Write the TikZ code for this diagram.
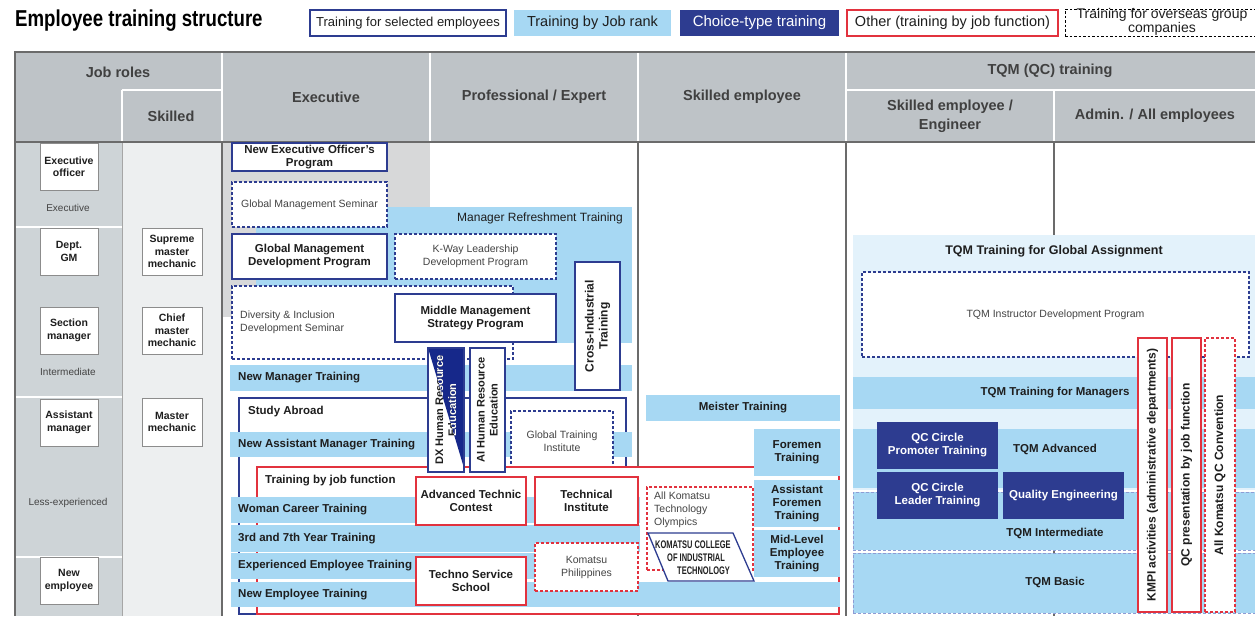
\documentclass[tikz,border=0pt]{standalone}
\usepackage{fontspec}
\setmainfont{Liberation Sans}
\usetikzlibrary{calc}
\definecolor{navy}{HTML}{2D3C90}
\definecolor{dxnavy}{HTML}{16288A}
\definecolor{lblue}{HTML}{A7D8F3}
\definecolor{vlblue}{HTML}{E3F2FB}
\definecolor{redc}{HTML}{E2323E}
\definecolor{hdrgray}{HTML}{BEC3C7}
\definecolor{leftgray}{HTML}{CED4D7}
\definecolor{skgray}{HTML}{EDEFF0}
\definecolor{exgray}{HTML}{D7D8D9}
\definecolor{lineg}{HTML}{6B6B6B}
\definecolor{txt}{HTML}{1E1E1E}
\definecolor{gtxt}{HTML}{444444}
\definecolor{intb}{HTML}{8E9CD4}
\newcommand\mybox[7]{%
 \pgfmathsetmacro\mbw{#5-#3}\pgfmathsetmacro\mbh{#6-#4}%
 \node[#1,anchor=north west,minimum width=\mbw pt,minimum height=\mbh pt,inner sep=0pt,outer sep=0pt] (#2) at (#3,#4) {#7};}
\begin{document}
\begin{tikzpicture}[x=1pt,y=-1pt,
 fb/.style={font=\fontsize{11.5}{13}\selectfont\bfseries,text=txt},
 fr/.style={font=\fontsize{10.5}{13}\selectfont,text=gtxt},
 sel/.style={draw=navy,line width=1.3pt,fill=white,align=center,fb},
 seld/.style={draw=navy,line width=1.1pt,dash pattern=on 3pt off 2pt,fill=white,align=center,fr},
 band/.style={fill=lblue,align=center,fb},
 oth/.style={draw=redc,line width=1.3pt,fill=white,align=center,fb},
 othd/.style={draw=redc,line width=1.1pt,dash pattern=on 3pt off 2pt,fill=white,align=center,fr},
 choice/.style={fill=navy,align=center,fb,text=white},
 intband/.style={fill=lblue,draw=intb,line width=0.9pt,dash pattern=on 3pt off 2pt,align=center,fb},
 rank/.style={draw=black!45,line width=0.9pt,fill=white,align=center,font=\fontsize{10.5}{12.5}\selectfont\bfseries,text=txt},
 lvl/.style={font=\fontsize{10}{12}\selectfont,text=gtxt},
 hdr/.style={font=\fontsize{14.5}{19}\selectfont\bfseries,text=txt!85,align=center},
 lbl/.style={anchor=west,inner sep=0pt,fb},
 rotl/.style={rotate=90,align=center,inner sep=0pt,font=\fontsize{11}{13}\selectfont\bfseries,text=txt},
 rotk/.style={rotate=90,align=center,inner sep=0pt,font=\fontsize{12}{14}\selectfont\bfseries,text=txt},
 colline/.style={draw=lineg,line width=1.3pt},
 sepw/.style={draw=white,line width=1.5pt}
]
\useasboundingbox (0,0) rectangle (1255,616);
\clip (0,0) rectangle (1255,616);
% title and legend
\node[anchor=west,inner sep=0pt,text=black] (title) at (15,21) {\scalebox{0.81}[1]{\fontsize{23}{25}\selectfont\bfseries Employee training structure}};
\mybox{sel,font=\fontsize{13}{15}\selectfont,line width=1.1pt}{lg1}{310}{10}{506}{36}{Training for selected employees}
\mybox{band,font=\fontsize{14.5}{16}\selectfont}{lg2}{514}{10}{671}{36}{Training by Job rank}
\mybox{choice,font=\fontsize{15}{17}\selectfont}{lg3}{680}{10}{839}{36}{Choice-type training}
\mybox{oth,font=\fontsize{14.5}{16}\selectfont,line width=1.1pt}{lg4}{847}{10}{1058}{36}{Other (training by job function)}
\mybox{draw=black,line width=1pt,dash pattern=on 2.5pt off 2pt}{lg5}{1065}{9}{1262}{36}{}
\node[align=center,inner sep=0pt,font=\fontsize{14}{14.5}\selectfont,text=txt] (lg5t) at (1162,22) {Training for overseas group\\companies};
% header
\fill[hdrgray] (15,52) rectangle (1262,142);
\draw[sepw] (222,52) -- (222,142) (430,52) -- (430,142) (638,52) -- (638,142) (846,52) -- (846,142)
 (122,90) -- (122,142) (122,90) -- (222,90) (846,90) -- (1262,90) (1054,90) -- (1054,142);
\node[hdr] (hjr) at (118,72) {Job roles};
\node[hdr] (hsk) at (171,116) {Skilled};
\node[hdr] (hex) at (326,97) {Executive};
\node[hdr] (hpe) at (534,97) {Professional / Expert};
\node[hdr] (hse) at (742,97) {Skilled employee};
\node[hdr] (htq) at (1050,71) {TQM (QC) training};
\node[hdr] (hsee) at (950,116) {Skilled employee /\\Engineer};
\node[hdr] (hadm) at (1155,116) {Admin. / All employees};
% body backgrounds
\fill[leftgray] (15,142) rectangle (122,616);
\fill[skgray] (122,142) rectangle (222,616);
\fill[exgray] (222,142) rectangle (430,317);
\draw[sepw] (15,227) -- (122,227) (15,397) -- (122,397) (15,557) -- (122,557);
\draw[draw=black!35,line width=1pt] (122,142) -- (122,616);
\draw[colline] (222,142) -- (222,616) (638,142) -- (638,616) (846,142) -- (846,616) (1054,142) -- (1054,616);
\draw[colline] (1262,52) -- (15,52) -- (15,616) (15,142) -- (1262,142);
% job roles
\mybox{rank}{eo}{40}{143}{98}{190}{Executive\\officer}
\node[lvl] (lvex) at (68,208) {Executive};
\mybox{rank}{dgm}{40}{228}{98}{275}{Dept.\\GM}
\mybox{rank}{sm}{40}{307}{98}{354}{Section\\manager}
\node[lvl] (lvint) at (68,372) {Intermediate};
\mybox{rank}{am}{40}{399}{98}{446}{Assistant\\manager}
\node[lvl] (lvle) at (68,503) {Less-experienced};
\mybox{rank}{ne}{40}{557}{98}{604}{New\\employee}
\mybox{rank}{smm}{142}{228}{202}{275}{Supreme\\master\\mechanic}
\mybox{rank}{cmm}{142}{307}{202}{354}{Chief\\master\\mechanic}
\mybox{rank}{mm}{142}{398}{202}{446}{Master\\mechanic}
% executive / professional
\mybox{band}{mrt}{256}{207}{632}{343}{}
\node[anchor=east,inner sep=0pt,font=\fontsize{12}{14}\selectfont,text=txt] (mrtl) at (623,218) {Manager Refreshment Training};
\mybox{sel}{neo}{232}{143}{387}{171}{New Executive Officer's\\Program}
\mybox{seld}{gms}{232}{182}{387}{227}{Global Management Seminar}
\mybox{sel}{gmdp}{232}{234}{387}{279}{Global Management\\Development Program}
\mybox{seld}{kway}{395}{234}{556}{279}{K-Way Leadership\\Development Program}
\mybox{seld}{dis}{232}{286}{513}{359}{}
\node[anchor=west,align=left,inner sep=0pt,fr] (disl) at (240,322) {Diversity \& Inclusion\\Development Seminar};
\mybox{sel}{mmsp}{395}{294}{556}{342}{Middle Management\\Strategy Program}
\mybox{band}{nmt}{230}{365}{632}{391}{}
\node[lbl] (nmtl) at (238,378) {New Manager Training};
\mybox{sel}{cit}{575}{262}{620}{390}{}
\node[rotk] (citl) at (cit.center) {Cross-Industrial\\Training};
\mybox{sel,fill=white}{sa}{239}{398}{626}{614}{}
\node[lbl] (sal) at (248,412) {Study Abroad};
\mybox{band}{namt}{230}{432}{632}{457}{}
\node[lbl] (namtl) at (238,445) {New Assistant Manager Training};
\mybox{seld}{gti}{511}{411}{613}{472}{Global Training\\Institute}
\mybox{oth}{tjf}{257}{467}{839}{614}{}
\node[lbl] (tjfl) at (265,481) {Training by job function};
\mybox{band}{wct}{231}{497}{640}{523}{}
\node[lbl] (wctl) at (238,510) {Woman Career Training};
\mybox{band}{y37}{231}{525}{640}{552}{}
\node[lbl] (y37l) at (238,539) {3rd and 7th Year Training};
\mybox{band}{eet}{231}{553}{638}{579}{}
\node[lbl] (eetl) at (238,566) {Experienced Employee Training};
\mybox{band}{net}{231}{582}{840}{607}{}
\node[lbl] (netl) at (238,595) {New Employee Training};
\mybox{oth}{atc}{416}{477}{526}{525}{Advanced Technic\\Contest}
\mybox{oth}{ti}{535}{477}{638}{525}{Technical\\Institute}
\mybox{oth}{tss}{416}{557}{526}{605}{Techno Service\\School}
\mybox{othd}{kp}{535}{543}{638}{591}{Komatsu\\Philippines}
% DX and AI
\mybox{sel}{dx}{428}{348}{464}{472}{}
\fill[dxnavy] (dx.north west) -- (dx.north east) -- ([yshift=4pt]dx.south east) -- cycle;
\node[rotl] (dxt) at (dx.center) {DX Human Resource\\Education};
\begin{scope}
\clip (dx.north west) -- (dx.north east) -- ([yshift=4pt]dx.south east) -- cycle;
\node[rotl,text=white] (dxtw) at (dx.center) {DX Human Resource\\Education};
\end{scope}
\draw[navy,line width=1.3pt] (dx.north west) rectangle (dx.south east);
\mybox{sel}{ai}{470}{348}{505}{472}{}
\node[rotl] (ait) at (ai.center) {AI Human Resource\\Education};
% skilled employee
\mybox{band}{meis}{646}{395}{840}{421}{Meister Training}
\mybox{band}{fore}{754}{429}{840}{476}{Foremen\\Training}
\mybox{band}{afore}{754}{480}{840}{527}{Assistant\\Foremen\\Training}
\mybox{band}{mid}{754}{530}{840}{577}{Mid-Level\\Employee\\Training}
\mybox{othd}{olym}{647}{487}{753}{570}{}
\node[anchor=north west,align=left,inner sep=0pt,fr] (olyml) at (654,492) {All Komatsu\\Technology\\Olympics};
\draw[sel] (648,533) -- (733,533) -- (754,581) -- (668,581) -- cycle;
\node[anchor=west,inner sep=0pt,font=\fontsize{11}{12}\selectfont\bfseries,text=txt] (kc1) at (655,545) {\scalebox{0.68}[1]{KOMATSU COLLEGE}};
\node[anchor=west,inner sep=0pt,font=\fontsize{11}{12}\selectfont\bfseries,text=txt] (kc2) at (667,558) {\scalebox{0.68}[1]{OF INDUSTRIAL}};
\node[anchor=west,inner sep=0pt,font=\fontsize{11}{12}\selectfont\bfseries,text=txt] (kc3) at (677,571) {\scalebox{0.68}[1]{TECHNOLOGY}};
% TQM
\mybox{fill=vlblue}{tqga}{853}{235}{1262}{490}{}
\node[inner sep=0pt,font=\fontsize{12.5}{14}\selectfont\bfseries,text=txt] (tqgal) at (1054,251) {TQM Training for Global Assignment};
\mybox{seld}{tqid}{862}{272}{1249}{357}{TQM Instructor Development Program}
\mybox{band}{tqmm}{853}{377}{1262}{409}{}
\node[inner sep=0pt,fb] (tqmml) at (1055,393) {TQM Training for Managers};
\mybox{band}{tqadv}{853}{429}{1262}{488}{}
\node[inner sep=0pt,fb] (tqadvl) at (1055,449) {TQM Advanced};
\mybox{intband}{tqint}{853}{492}{1262}{550}{}
\node[inner sep=0pt,fb] (tqintl) at (1055,533) {TQM Intermediate};
\mybox{intband}{tqbas}{853}{553}{1262}{613}{}
\node[inner sep=0pt,fb] (tqbasl) at (1055,582) {TQM Basic};
\mybox{choice}{qcp}{877}{422}{998}{469}{QC Circle\\Promoter Training}
\mybox{choice}{qcl}{877}{472}{998}{519}{QC Circle\\Leader Training}
\mybox{choice}{qe}{1003}{472}{1124}{519}{Quality Engineering}
\mybox{oth}{kmpi}{1138}{338}{1167}{612}{}
\node[rotk] (kmpil) at (kmpi.center) {KMPI activities (administrative departments)};
\mybox{oth}{qcpj}{1172}{338}{1201}{612}{}
\node[rotk] (qcpjl) at (qcpj.center) {QC presentation by job function};
\mybox{othd}{akqc}{1205}{338}{1235}{612}{}
\node[rotk] (akqcl) at (akqc.center) {All Komatsu QC Convention};
\end{tikzpicture}
\end{document}
